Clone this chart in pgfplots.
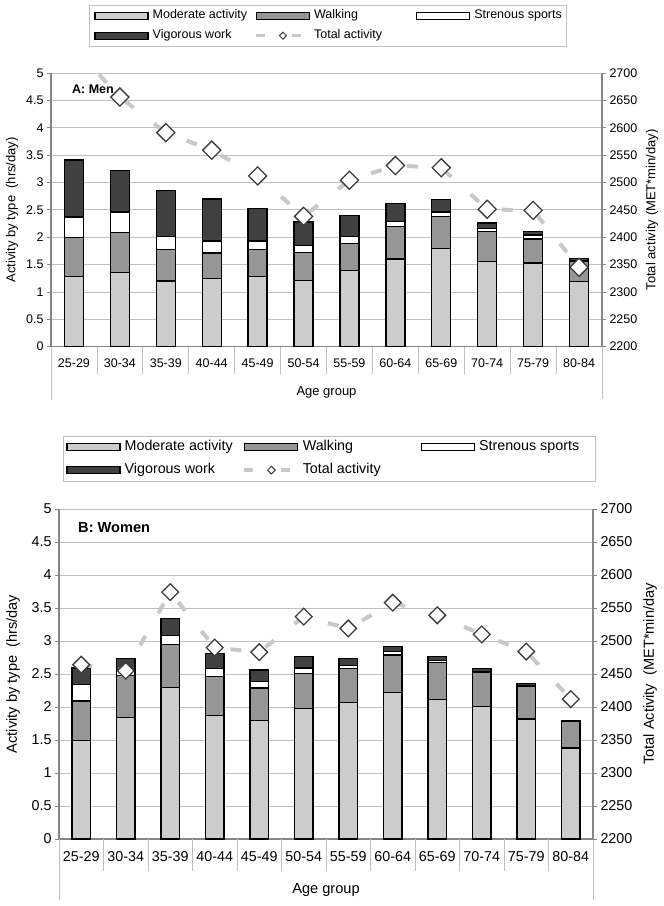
\documentclass[border=0pt]{standalone}
\usepackage{fontspec}
\setmainfont{Liberation Sans}
\usepackage{pgfplots}
\usepackage{pgfplotstable}
\pgfplotsset{compat=1.18}
\definecolor{modc}{HTML}{CCCCCC}
\definecolor{walkc}{HTML}{969696}
\definecolor{vigc}{HTML}{404040}
\definecolor{totc}{HTML}{C8C8C8}
\definecolor{gridc}{HTML}{C0C0C0}
\definecolor{axc}{HTML}{868686}
\definecolor{mkc}{HTML}{3C3C3C}
\newcommand{\fa}{\fontsize{12.5bp}{15bp}\selectfont}
\newcommand{\fb}{\fontsize{13bp}{15bp}\selectfont}
\newcommand{\fc}{\fontsize{14.3bp}{17bp}\selectfont}
\newcommand{\fd}{\fontsize{14.6bp}{17bp}\selectfont}

\pgfplotstableread{
x mod walk sport vig tot
0 1.28 0.72 0.37 1.04 2747
1 1.36 0.72 0.38 0.76 2656
2 1.20 0.57 0.24 0.84 2591
3 1.25 0.46 0.22 0.77 2559
4 1.28 0.49 0.16 0.60 2512
5 1.21 0.51 0.13 0.43 2438
6 1.39 0.50 0.12 0.39 2504
7 1.60 0.59 0.10 0.33 2531
8 1.79 0.59 0.08 0.23 2527
9 1.55 0.55 0.06 0.10 2451
10 1.53 0.44 0.07 0.07 2449
11 1.19 0.37 0.02 0.03 2345
}\men

\pgfplotstableread{
x mod walk sport vig tot
0 1.49 0.60 0.25 0.25 2464
1 1.84 0.64 0.08 0.17 2455
2 2.30 0.65 0.13 0.26 2574
3 1.87 0.59 0.12 0.23 2490
4 1.80 0.49 0.10 0.17 2483
5 1.98 0.53 0.08 0.17 2537
6 2.07 0.51 0.05 0.11 2519
7 2.22 0.57 0.05 0.08 2558
8 2.11 0.56 0.03 0.06 2539
9 2.01 0.51 0.02 0.04 2510
10 1.82 0.50 0.01 0.03 2484
11 1.38 0.40 0.01 0.01 2412
}\women

\pgfplotsset{
  basic/.style={
    scale only axis, anchor=south west,
    xmin=-0.5, xmax=11.5,
    axis line style={axc, line width=1.2bp},
    tick align=outside, major tick length=4bp,
    ytick style={axc, line width=0.8bp},
    /pgf/number format/assume math mode=true,
    /pgf/number format/1000 sep={},
    scaled y ticks=false,
  },
  barax/.style={basic,
    ymin=0, ymax=5, ybar stacked, bar width=#1, clip=false,
    axis x line*=bottom, axis y line*=left,
    xtick=\empty,
    ytick={0,0.5,...,5},
    ymajorgrids, grid style={gridc, line width=0.8bp},
    legend columns=3,
  },
  catax/.style n args={2}{basic,
    ymin=0, ymax=1, clip=false,
    axis y line=none, axis x line*=bottom, axis line style={draw=none},
    xtick={-0.5,0.5,...,11.5},
    x tick label as interval,
    xticklabels={25-29,30-34,35-39,40-44,45-49,50-54,55-59,60-64,65-69,70-74,75-79,80-84},
    major tick length=#1,
    xtick style={gridc, line width=0.8bp},
    xticklabel style={yshift=#2},
  },
  lineax/.style={basic,
    ymin=2200, ymax=2700, clip=true,
    axis x line=none, axis y line*=right,
    ytick={2200,2250,...,2700},
  },
  barplot/.style={fill=#1, draw=black, line width=1.3bp,
    legend image code/.code={\draw[fill=#1,draw=black,line width=1.2bp] (0bp,-3.5bp) rectangle (53bp,3.5bp); \path (57bp,0bp);}},
}

\begin{document}
\begin{tikzpicture}
\useasboundingbox (0,0) rectangle (664bp,906bp);

% ---------------- Panel A: Men ----------------
\begin{axis}[barax={19bp},
  at={(51bp,559.3bp)}, width=551bp, height=273.7bp,
  tick label style={font=\fa},
  xlabel={Age group}, xlabel style={font=\fb, at={(axis description cs:0.5,-0.1655)}, anchor=center},
  ylabel={Activity by type\ \ (hrs/day)}, ylabel style={font=\fb, at={(axis description cs:-0.0708,0.5)}, anchor=center},
  legend style={at={(0.069,1.2484)}, anchor=north west, draw=gridc, line width=0.8bp, fill=white,
    inner xsep=5bp, inner ysep=4.5bp, column sep=0bp, row sep=8.5bp, font=\fa,
    nodes={inner sep=0bp, text height=9bp, text depth=2.5bp}},
  legend cell align=left,
]
\addplot[barplot=modc] table[x=x,y=mod]{\men};
\addlegendentry{\makebox[102bp][l]{Moderate activity}}
\addplot[barplot=walkc] table[x=x,y=walk]{\men};
\addlegendentry{\makebox[102bp][l]{Walking}}
\addplot[barplot=white] table[x=x,y=sport]{\men};
\addlegendentry{Strenous sports}
\addplot[barplot=vigc] table[x=x,y=vig]{\men};
\addlegendentry{Vigorous work}
\addlegendimage{legend image code/.code={
  \draw[totc, line width=3.5bp] (0bp,0bp) -- (9bp,0bp);
  \draw[totc, line width=3.5bp] (36bp,0bp) -- (45bp,0bp);
  \draw[mkc, fill=white, line width=1bp] (26.5bp,3.5bp) -- (30bp,0bp) -- (26.5bp,-3.5bp) -- (23bp,0bp) -- cycle;
  \path (57bp,0bp);}}
\addlegendentry{Total activity}
\node[anchor=west, font=\fa\bfseries, inner sep=0pt] at (rel axis cs:0.038,0.9415) {A: Men};
\draw[gridc, line width=0.8bp] (rel axis cs:0,0) -- ++(0pt,-53bp);
\draw[gridc, line width=0.8bp] (rel axis cs:1,0) -- ++(0pt,-52bp);
\end{axis}
\begin{axis}[catax={27bp}{18bp},
  at={(51bp,559.3bp)}, width=551bp, height=273.7bp,
  tick label style={font=\fa},
]
\end{axis}
\begin{axis}[lineax,
  at={(51bp,559.3bp)}, width=551bp, height=273.7bp,
  tick label style={font=\fa},
  ylabel={Total activity (MET*min/day)}, ylabel style={font=\fb, at={(axis description cs:1.0907,0.5)}, anchor=center},
]
\addplot[totc, line width=4bp, dash pattern=on 11bp off 26bp, mark=square*, mark size=6.4bp,
  mark options={solid, rotate=45, fill=white, draw=mkc, line width=1.3bp}]
  table[x=x,y=tot]{\men};
\end{axis}

% ---------------- Panel B: Women ----------------
\begin{axis}[barax={18.7bp},
  at={(59bp,67bp)}, width=534bp, height=330bp,
  tick label style={font=\fc},
  xlabel={Age group}, xlabel style={font=\fd, at={(axis description cs:0.5,-0.1545)}, anchor=center},
  ylabel={Activity by type\ \ (hrs/day}, ylabel style={font=\fd, at={(axis description cs:-0.0861,0.5)}, anchor=center},
  legend style={at={(0.0075,1.2212)}, anchor=north west, draw=gridc, line width=0.8bp, fill=white,
    inner xsep=3bp, inner ysep=4bp, column sep=0bp, row sep=9.5bp, font=\fc,
    nodes={inner sep=0bp, text height=10.5bp, text depth=3bp}},
  legend cell align=left,
]
\addplot[barplot=modc] table[x=x,y=mod]{\women};
\addlegendentry{\makebox[118bp][l]{Moderate activity}}
\addplot[barplot=walkc] table[x=x,y=walk]{\women};
\addlegendentry{\makebox[118bp][l]{Walking}}
\addplot[barplot=white] table[x=x,y=sport]{\women};
\addlegendentry{\makebox[113bp][l]{Strenous sports}}
\addplot[barplot=vigc] table[x=x,y=vig]{\women};
\addlegendentry{Vigorous work}
\addlegendimage{legend image code/.code={
  \draw[totc, line width=3.5bp] (0bp,0bp) -- (9bp,0bp);
  \draw[totc, line width=3.5bp] (37bp,0bp) -- (46bp,0bp);
  \draw[mkc, fill=white, line width=1bp] (27bp,3.8bp) -- (30.8bp,0bp) -- (27bp,-3.8bp) -- (23.2bp,0bp) -- cycle;
  \path (58bp,0bp);}}
\addlegendentry{Total activity}
\node[anchor=west, font=\fd\bfseries, inner sep=0pt] at (rel axis cs:0.0356,0.9424) {B: Women};
\draw[gridc, line width=0.8bp] (rel axis cs:0,0) -- ++(0pt,-61bp);
\draw[gridc, line width=0.8bp] (rel axis cs:1,0) -- ++(0pt,-61bp);
\end{axis}
\begin{axis}[catax={32bp}{23bp},
  at={(59bp,67bp)}, width=534bp, height=330bp,
  tick label style={font=\fc},
]
\end{axis}
\begin{axis}[lineax,
  at={(59bp,67bp)}, width=534bp, height=330bp,
  tick label style={font=\fc},
  ylabel={Total Activity\ \ (MET*min/day}, ylabel style={font=\fd, at={(axis description cs:1.1067,0.5)}, anchor=center},
]
\addplot[totc, line width=4bp, dash pattern=on 11bp off 26bp, mark=square*, mark size=5.9bp,
  mark options={solid, rotate=45, fill=white, draw=mkc, line width=1.3bp}]
  table[x=x,y=tot]{\women};
\end{axis}
\end{tikzpicture}
\end{document}
